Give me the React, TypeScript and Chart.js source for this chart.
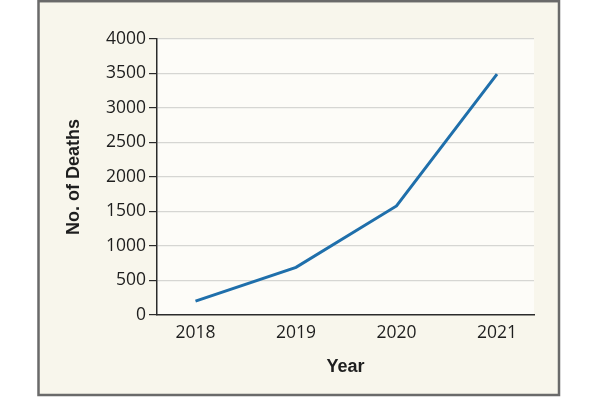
import React, { useEffect, useRef } from "react";
import { Chart, registerables } from "chart.js";

Chart.register(...registerables);

const years = [2018, 2019, 2020, 2021];
const deaths = [200, 690, 1580, 3490];
const yTicks = [0, 500, 1000, 1500, 2000, 2500, 3000, 3500, 4000];

const backgroundPlugin = {
  id: "nejmBackground",
  beforeDraw(chart: any) {
    const { ctx, chartArea } = chart;
    ctx.save();
    ctx.fillStyle = "#ffffff";
    ctx.fillRect(0, 0, chart.width, chart.height);
    ctx.fillStyle = "#f8f6ec";
    ctx.fillRect(38, 0, 522, 396);
    ctx.strokeStyle = "#6a6a6a";
    ctx.lineWidth = 2.5;
    ctx.strokeRect(38.5, 1.2, 520.5, 393.8);
    ctx.fillStyle = "#fdfcf8";
    ctx.fillRect(chartArea.left, chartArea.top, chartArea.right - chartArea.left, chartArea.bottom - chartArea.top);
    ctx.restore();
  },
};

export default function App() {
  const ref = useRef<HTMLCanvasElement | null>(null);
  useEffect(() => {
    if (!ref.current) return;
    const chart = new Chart(ref.current, {
      type: "line",
      data: {
        datasets: [
          {
            data: years.map((y, i) => ({ x: y, y: deaths[i] })),
            borderColor: "#1f6fab",
            borderWidth: 3,
            pointRadius: 0,
            tension: 0,
            fill: false,
          },
        ],
      },
      options: {
        animation: false,
        responsive: false,
        maintainAspectRatio: false,
        layout: { padding: { left: 0, right: 66, top: 39, bottom: 0 } },
        plugins: { legend: { display: false }, tooltip: { enabled: false } },
        scales: {
          x: {
            type: "linear",
            min: 2017.617,
            max: 2021.368,
            afterBuildTicks: (scale: any) => {
              scale.ticks = years.map((v) => ({ value: v }));
            },
            afterFit: (scale: any) => {
              scale.height = 82;
            },
            grid: { display: false, drawTicks: false },
            border: { display: true, color: "#2b2b2b", width: 1.5 },
            ticks: {
              padding: 8,
              color: "#1e1e1e",
              font: { family: "'Open Sans'", size: 17.5 },
              callback: (v: any) => String(v),
            },
            title: {
              display: true,
              text: "Year",
              color: "#1e1e1e",
              font: { family: "'Liberation Sans'", size: 18, weight: "bold" },
              padding: { top: 0, bottom: 19 },
            },
          },
          y: {
            min: 0,
            max: 4000,
            afterBuildTicks: (scale: any) => {
              scale.ticks = yTicks.map((v) => ({ value: v }));
            },
            afterFit: (scale: any) => {
              scale.width = 157;
            },
            grid: {
              color: (c: any) => (c.tick && c.tick.value === 0 ? "rgba(0,0,0,0)" : "#d6d6d3"),
              lineWidth: 1.2,
              tickColor: "#2b2b2b",
              tickLength: 8,
              drawTicks: true,
            },
            border: { display: true, color: "#2b2b2b", width: 1.5 },
            ticks: {
              padding: 3,
              color: "#1e1e1e",
              font: { family: "'Open Sans'", size: 17.5 },
              callback: (v: any) => String(v),
            },
            title: {
              display: true,
              text: "No. of Deaths",
              color: "#1e1e1e",
              font: { family: "'Liberation Sans'", size: 18, weight: "bold" },
              padding: { top: 63, bottom: 0 },
            },
          },
        },
      },
      plugins: [backgroundPlugin],
    } as any);
    return () => chart.destroy();
  }, []);
  return (
    <div style={{ position: "fixed", left: 0, top: 0, width: 600, height: 397 }}>
      <canvas ref={ref} width={600} height={397} style={{ width: 600, height: 397, display: "block" }} />
    </div>
  );
}
